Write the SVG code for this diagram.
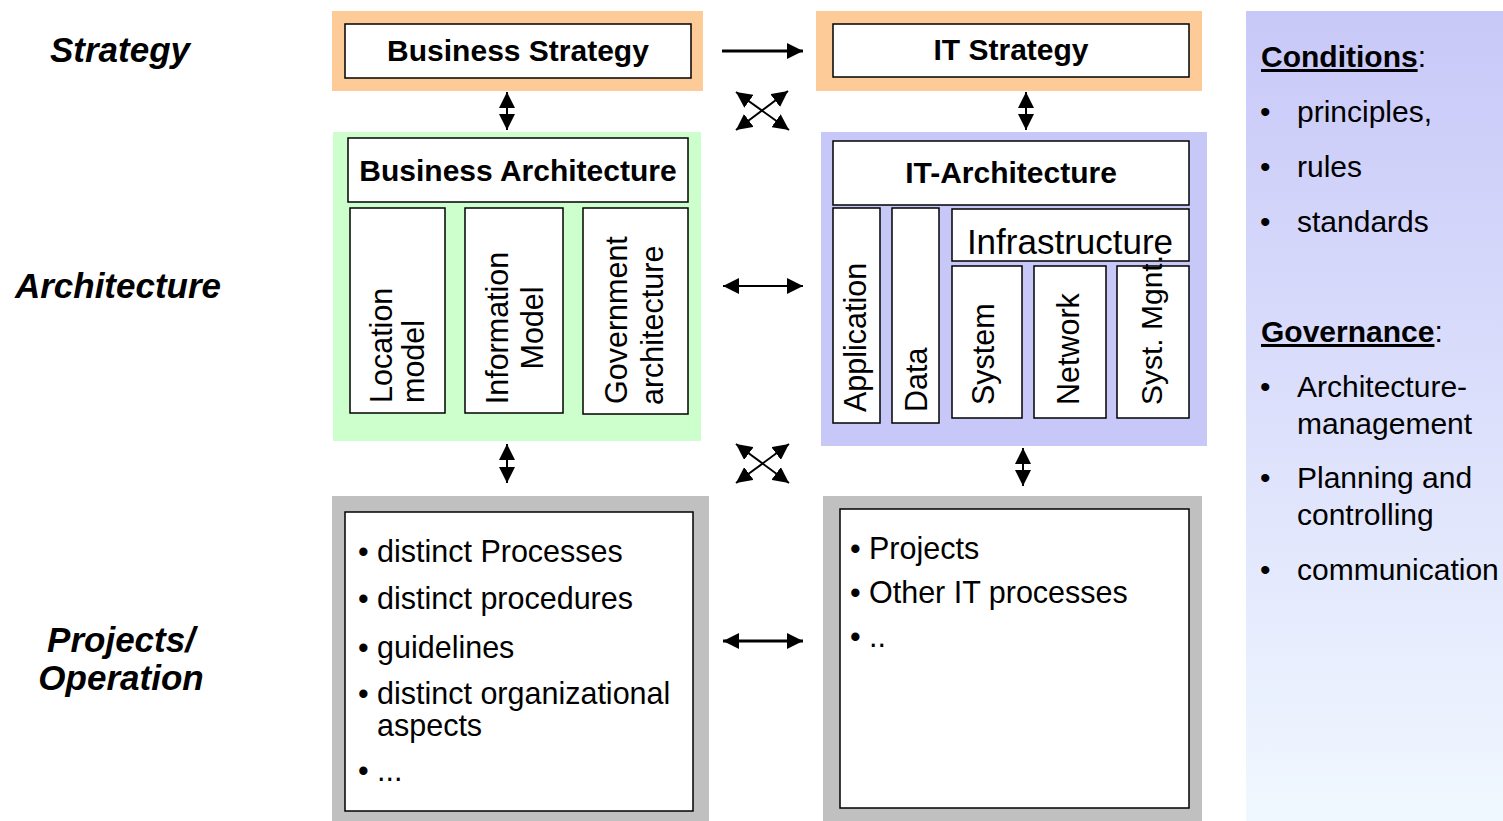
<svg xmlns="http://www.w3.org/2000/svg" width="1503" height="821" viewBox="0 0 1503 821">
<defs>
<linearGradient id="side" x1="0" y1="0" x2="0" y2="1">
<stop offset="0" stop-color="#c8c8f8"/>
<stop offset="1" stop-color="#f0f8ff"/>
</linearGradient>
<marker id="ah" markerUnits="userSpaceOnUse" markerWidth="16" markerHeight="16" viewBox="0 0 16 16" refX="16" refY="8" orient="auto-start-reverse">
<path d="M0,0 L16,8 L0,16 z" fill="#000"/>
</marker>
</defs>
<style>
text{font-family:"Liberation Sans",Arial,sans-serif;fill:#000}
.lbl{font-size:35px;font-weight:bold;font-style:italic}
.hd{font-size:30px;font-weight:bold}
.t{font-size:30px}
.b{font-size:30.5px}
.box{fill:#fff;stroke:#000;stroke-width:1.5}
.c{stroke:#000;stroke-width:2;fill:none}
.ct{stroke:#000;stroke-width:3;fill:none}
</style>
<rect x="1246" y="11" width="257" height="810" fill="url(#side)"/>

<g id="labels">
<text class="lbl" x="120" y="62" text-anchor="middle">Strategy</text>
<text class="lbl" x="118" y="298" text-anchor="middle">Architecture</text>
<text class="lbl" x="121" y="652" text-anchor="middle">Projects/</text>
<text class="lbl" x="121" y="690" text-anchor="middle">Operation</text>
</g>

<g id="business-strategy">
<rect x="332" y="11" width="371" height="80" fill="#fdcb98"/>
<rect class="box" x="345" y="24" width="346" height="54"/>
<text class="hd" x="518" y="61" text-anchor="middle">Business Strategy</text>
</g>
<g id="it-strategy">
<rect x="816" y="11" width="386" height="80" fill="#fdcb98"/>
<rect class="box" x="833" y="24" width="356" height="53"/>
<text class="hd" x="1011" y="60" text-anchor="middle">IT Strategy</text>
</g>

<g id="business-architecture">
<rect x="333" y="132" width="368" height="309" fill="#ccffcc"/>
<rect class="box" x="348" y="138" width="340" height="64"/>
<text class="hd" x="518" y="181" text-anchor="middle">Business Architecture</text>
<rect class="box" x="350" y="208" width="95" height="205"/>
<rect class="box" x="465" y="208" width="98" height="205"/>
<rect class="box" x="583" y="208" width="105" height="206"/>
<text class="b" transform="translate(392,403) rotate(-90)">Location</text>
<text class="b" transform="translate(424,403) rotate(-90)">model</text>
<text class="b" transform="translate(508,328) rotate(-90)" text-anchor="middle">Information</text>
<text class="b" transform="translate(543,328) rotate(-90)" text-anchor="middle">Model</text>
<text class="b" transform="translate(627,404) rotate(-90)">Government</text>
<text class="b" transform="translate(663,405) rotate(-90)">architecture</text>
</g>

<g id="it-architecture">
<rect x="821" y="132" width="386" height="314" fill="#c8c8f8"/>
<rect class="box" x="833" y="141" width="356" height="64"/>
<text class="hd" x="1011" y="183" text-anchor="middle">IT-Architecture</text>
<rect class="box" x="833" y="208" width="47" height="215"/>
<rect class="box" x="892" y="208" width="47" height="215"/>
<rect class="box" x="952" y="209" width="237" height="52"/>
<rect class="box" x="952" y="266" width="70" height="152"/>
<rect class="box" x="1034" y="266" width="72" height="152"/>
<rect class="box" x="1117" y="266" width="72" height="152"/>
<text x="1070" y="254" text-anchor="middle" style="font-size:35px">Infrastructure</text>
<text class="b" transform="translate(866,412) rotate(-90)">Application</text>
<text class="b" transform="translate(927,412) rotate(-90)">Data</text>
<text class="b" transform="translate(994,405) rotate(-90)">System</text>
<text class="b" transform="translate(1079,405) rotate(-90)">Network</text>
<text class="t" transform="translate(1162,405) rotate(-90)">Syst. Mgnt.</text>
</g>

<g id="business-operation">
<rect x="332" y="496" width="377" height="325" fill="#c0c0c0"/>
<rect class="box" x="345" y="512" width="348" height="299"/>
<text class="b" x="358" y="562">•</text><text class="b" x="377" y="562">distinct Processes</text>
<text class="b" x="358" y="609">•</text><text class="b" x="377" y="609">distinct procedures</text>
<text class="b" x="358" y="658">•</text><text class="b" x="377" y="658">guidelines</text>
<text class="b" x="358" y="704">•</text><text class="b" x="377" y="704">distinct organizational</text>
<text class="b" x="377" y="736">aspects</text>
<text class="b" x="358" y="781">•</text><text class="b" x="377" y="781">...</text>
</g>

<g id="it-operation">
<rect x="823" y="496" width="379" height="325" fill="#c0c0c0"/>
<rect class="box" x="840" y="509" width="349" height="299"/>
<text class="b" x="850" y="559">•</text><text class="b" x="869" y="559">Projects</text>
<text class="b" x="850" y="603">•</text><text class="b" x="869" y="603">Other IT processes</text>
<text class="b" x="850" y="647">•</text><text class="b" x="869" y="647">..</text>
</g>

<g id="side-panel">
<text class="hd" x="1261" y="67"><tspan text-decoration="underline">Conditions</tspan><tspan font-weight="normal">:</tspan></text>
<text class="t" x="1260" y="122">•</text><text class="t" x="1297" y="122">principles,</text>
<text class="t" x="1260" y="177">•</text><text class="t" x="1297" y="177">rules</text>
<text class="t" x="1260" y="232">•</text><text class="t" x="1297" y="232">standards</text>
<text class="hd" x="1261" y="342"><tspan text-decoration="underline">Governance</tspan><tspan font-weight="normal">:</tspan></text>
<text class="t" x="1260" y="397">•</text><text class="t" x="1297" y="397">Architecture-</text>
<text class="t" x="1297" y="434">management</text>
<text class="t" x="1260" y="488">•</text><text class="t" x="1297" y="488">Planning and</text>
<text class="t" x="1297" y="525">controlling</text>
<text class="t" x="1260" y="580">•</text><text class="t" x="1297" y="580">communication</text>
</g>

<g id="connectors">
<line class="ct" x1="722" y1="51" x2="803" y2="51" marker-end="url(#ah)"/>
<line class="c" x1="507" y1="92" x2="507" y2="130" marker-start="url(#ah)" marker-end="url(#ah)"/>
<line class="c" x1="1026" y1="92" x2="1026" y2="130" marker-start="url(#ah)" marker-end="url(#ah)"/>
<line class="c" x1="736" y1="92" x2="789" y2="130" marker-start="url(#ah)" marker-end="url(#ah)"/>
<line class="c" x1="788" y1="91" x2="736" y2="130" marker-start="url(#ah)" marker-end="url(#ah)"/>
<line class="c" x1="723" y1="286" x2="803" y2="286" marker-start="url(#ah)" marker-end="url(#ah)"/>
<line class="c" x1="507" y1="444" x2="507" y2="483" marker-start="url(#ah)" marker-end="url(#ah)"/>
<line class="c" x1="1023" y1="448" x2="1023" y2="486" marker-start="url(#ah)" marker-end="url(#ah)"/>
<line class="c" x1="736" y1="444" x2="789" y2="483" marker-start="url(#ah)" marker-end="url(#ah)"/>
<line class="c" x1="789" y1="444" x2="736" y2="483" marker-start="url(#ah)" marker-end="url(#ah)"/>
<line class="ct" x1="723" y1="641" x2="803" y2="641" marker-start="url(#ah)" marker-end="url(#ah)"/>
</g>
</svg>
